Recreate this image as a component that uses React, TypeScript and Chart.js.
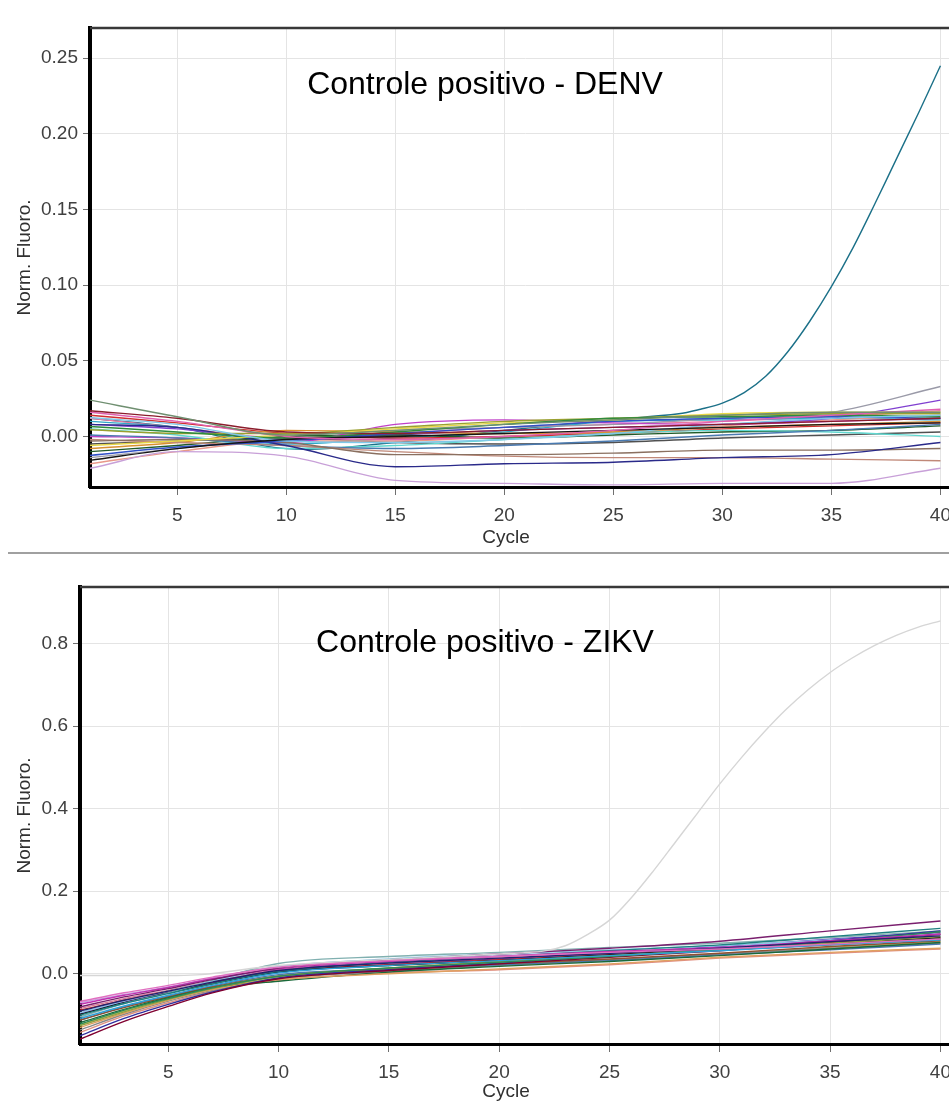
import React, { useEffect, useRef } from "react";
import Chart from "chart.js/auto";

const FONT = "'Liberation Sans', Arial, sans-serif";

// ---------- Shared axis ticks / labels ----------
const X_TICKS = [5, 10, 15, 20, 25, 30, 35, 40];
const DENV_Y_TICKS = [0, 0.05, 0.1, 0.15, 0.2, 0.25];
const ZIKV_Y_TICKS = [0, 0.2, 0.4, 0.6, 0.8];
const X_TITLE = "Cycle";
const Y_TITLE = "Norm. Fluoro.";

// ---------- DENV panel ----------
const DENV_TITLE = "Controle positivo - DENV";
const DENV_CYCLES = [1, 5, 10, 15, 20, 25, 30, 35, 40];
const D01 = [0.024, 0.013, 0.001, 0.004, 0.008, 0.011, 0.014, 0.016, 0.016];
const D02 = [0.017, 0.012, 0.003, 0.002, 0.004, 0.006, 0.008, 0.010, 0.012];
const D03 = [0.016, 0.010, 0.0, -0.002, 0.0, 0.004, 0.010, 0.014, 0.018];
const D04 = [-0.0158, -0.008, -0.002, 0.0, 0.002, 0.004, 0.006, 0.008, 0.009];
const D05 = [0.0125, 0.008, -0.003, -0.004, -0.002, 0.002, 0.008, 0.012, 0.014];
const D06 = [0.0066, 0.003, -0.001, 0.003, 0.008, 0.012, 0.013, 0.014, 0.013];
const D07 = [0.0044, 0.002, 0.002, 0.006, 0.010, 0.012, 0.014, 0.015, 0.015];
const D08 = [-0.006, -0.003, 0.001, 0.005, 0.009, 0.011, 0.015, 0.016, 0.016];
const D09 = [-0.0125, -0.007, -0.003, 0.002, 0.006, 0.010, 0.012, 0.013, 0.012];
const D10 = [-0.021, -0.010, -0.013, -0.029, -0.031, -0.032, -0.031, -0.031, -0.021];
const D11 = [0.008, 0.006, -0.006, -0.020, -0.018, -0.017, -0.014, -0.012, -0.004];
const D12 = [-0.003, -0.002, -0.004, -0.012, -0.012, -0.011, -0.009, -0.009, -0.008];
const D13 = [-0.002, -0.004, -0.006, -0.010, -0.013, -0.014, -0.014, -0.015, -0.016];
const D14 = [0.001, -0.001, -0.006, -0.008, -0.006, -0.003, 0.001, 0.004, 0.008];
const D15 = [0.005, 0.001, -0.008, -0.006, -0.002, 0.002, 0.004, 0.003, 0.0];
const D16 = [-0.008, -0.004, 0.004, 0.003, 0.002, 0.003, 0.006, 0.008, 0.010];
const D17 = [0.0, -0.001, -0.004, 0.008, 0.011, 0.009, 0.008, 0.010, 0.012];
const D18 = [-0.010, -0.006, 0.0, 0.001, -0.001, 0.001, 0.003, 0.004, 0.007];
const D19 = [0.014, 0.009, 0.002, -0.001, 0.0, 0.002, 0.005, 0.007, 0.009];
const D20 = [-0.014, -0.008, 0.0, 0.004, 0.006, 0.008, 0.012, 0.016, 0.033];
const D21 = [0.008, 0.005, -0.002, 0.001, 0.004, 0.006, 0.008, 0.012, 0.024];
const D22 = [-0.018, -0.010, -0.003, -0.003, 0.0, 0.003, 0.007, 0.011, 0.014];
const D23 = [0.010, 0.006, -0.005, -0.001, 0.003, 0.010, 0.011, 0.012, 0.011];
const D24 = [-0.005, -0.003, -0.001, -0.004, -0.005, -0.004, -0.001, 0.001, 0.003];
const D25 = [0.012, 0.006, -0.001, 0.002, 0.006, 0.008, 0.010, 0.013, 0.017];
const DENV_NEG_SERIES = [D01, D02, D03, D04, D05, D06, D07, D08, D09, D10, D11, D12, D13, D14, D15, D16, D17, D18, D19, D20, D21, D22, D23, D24, D25];
const DENV_NEG_COLORS = [
  "#6f8f70", "#8b1c2c", "#e060b0", "#151515", "#7fc8e8", "#2e8b3e", "#9aa030", "#e8d848", "#3050c8",
  "#c8a0d8", "#2a2a8a", "#8a7060", "#c08878", "#4a7ab0", "#60d8d0", "#d89030", "#c040c8", "#205a28",
  "#d03030", "#9a9aa8", "#8040d0", "#e89888", "#30a8c8", "#505050", "#e878a0",
];
const DENV_POS_CYCLES = [1, 5, 10, 15, 20, 25, 28, 29, 30, 31, 32, 33, 34, 35, 36, 37, 38, 39, 40];
const DENV_POS_VALUES = [0.012, 0.006, -0.008, -0.004, 0.004, 0.011, 0.015, 0.018, 0.022, 0.029, 0.040, 0.056, 0.076, 0.099, 0.125, 0.154, 0.184, 0.214, 0.245];
const DENV_POS_COLOR = "#1b7088";

// ---------- ZIKV panel ----------
const ZIKV_TITLE = "Controle positivo - ZIKV";
const ZIKV_CYCLES = [1, 3, 5, 7, 10, 15, 20, 25, 30, 35, 40];
const Z01 = [-0.067, -0.046, -0.028, -0.008, 0.016, 0.032, 0.042, 0.052, 0.060, 0.072, 0.084];
const Z02 = [-0.080, -0.056, -0.036, -0.014, 0.014, 0.034, 0.048, 0.062, 0.079, 0.104, 0.128];
const Z03 = [-0.090, -0.064, -0.042, -0.020, 0.008, 0.026, 0.038, 0.050, 0.062, 0.078, 0.092];
const Z04 = [-0.074, -0.052, -0.033, -0.012, 0.012, 0.030, 0.042, 0.054, 0.064, 0.080, 0.096];
const Z05 = [-0.100, -0.072, -0.048, -0.024, 0.006, 0.028, 0.042, 0.056, 0.070, 0.090, 0.110];
const Z06 = [-0.108, -0.078, -0.052, -0.028, 0.002, 0.020, 0.032, 0.044, 0.056, 0.070, 0.082];
const Z07 = [-0.122, -0.088, -0.060, -0.034, -0.006, 0.014, 0.028, 0.042, 0.058, 0.078, 0.102];
const Z08 = [-0.126, -0.092, -0.062, -0.036, -0.006, 0.014, 0.030, 0.044, 0.058, 0.074, 0.090];
const Z09 = [-0.158, -0.115, -0.079, -0.046, -0.012, 0.008, 0.024, 0.040, 0.056, 0.076, 0.096];
const Z10 = [-0.150, -0.108, -0.074, -0.044, -0.010, 0.010, 0.026, 0.042, 0.060, 0.080, 0.104];
const Z11 = [-0.094, -0.066, -0.042, -0.018, 0.016, 0.036, 0.048, 0.058, 0.068, 0.082, 0.096];
const Z12 = [-0.104, -0.072, -0.046, -0.016, 0.025, 0.042, 0.052, 0.064, 0.074, 0.088, 0.104];
const Z13 = [-0.130, -0.095, -0.064, -0.038, -0.014, 0.000, 0.012, 0.024, 0.040, 0.052, 0.062];
const Z14 = [-0.118, -0.086, -0.058, -0.034, -0.018, 0.004, 0.018, 0.030, 0.044, 0.060, 0.076];
const Z15 = [-0.112, -0.082, -0.056, -0.032, -0.006, 0.012, 0.024, 0.036, 0.050, 0.066, 0.080];
const Z16 = [-0.098, -0.070, -0.046, -0.024, 0.004, 0.020, 0.032, 0.046, 0.060, 0.074, 0.088];
const Z17 = [-0.088, -0.064, -0.042, -0.020, 0.006, 0.022, 0.034, 0.046, 0.058, 0.070, 0.084];
const Z18 = [-0.070, -0.050, -0.032, -0.010, 0.018, 0.034, 0.044, 0.054, 0.062, 0.074, 0.086];
const Z19 = [-0.112, -0.080, -0.054, -0.030, -0.002, 0.012, 0.022, 0.032, 0.046, 0.058, 0.072];
const Z20 = [-0.136, -0.098, -0.066, -0.040, -0.012, 0.006, 0.020, 0.034, 0.048, 0.062, 0.074];
const Z21 = [-0.142, -0.102, -0.070, -0.042, -0.016, 0.002, 0.010, 0.022, 0.038, 0.050, 0.060];
const Z22 = [-0.096, -0.068, -0.044, -0.022, 0.004, 0.022, 0.036, 0.050, 0.066, 0.084, 0.100];
const Z23 = [-0.124, -0.090, -0.060, -0.036, -0.010, 0.008, 0.020, 0.034, 0.048, 0.064, 0.078];
const Z24 = [-0.084, -0.060, -0.040, -0.018, 0.010, 0.026, 0.038, 0.050, 0.060, 0.072, 0.086];
const ZIKV_NEG_SERIES = [Z01, Z02, Z03, Z04, Z05, Z06, Z07, Z08, Z09, Z10, Z11, Z12, Z13, Z14, Z15, Z16, Z17, Z18, Z19, Z20, Z21, Z22, Z23, Z24];
const ZIKV_NEG_COLORS = [
  "#e070c0", "#7a1f6e", "#22226e", "#c030b0", "#1f8080", "#30a0d8", "#2e8b57", "#90a040", "#800030",
  "#3030a0", "#90c8e8", "#80b0b0", "#e0a060", "#1a6a3a", "#905030", "#101010", "#c02828", "#c8a0e0",
  "#4a78b0", "#888888", "#e09080", "#6a40c0", "#c8c060", "#d87898",
];
const ZIKV_POS_CYCLES = [1, 3, 5, 6.5, 10, 15, 20, 22, 23, 24, 25, 26, 27, 28, 29, 30, 31, 32, 33, 34, 35, 36, 37, 38, 39, 40];
const ZIKV_POS_VALUES = [-0.004, -0.004, -0.004, -0.002, 0.02, 0.035, 0.048, 0.055, 0.068, 0.095, 0.13, 0.185, 0.25, 0.32, 0.39, 0.46, 0.525, 0.585, 0.64, 0.688, 0.73, 0.765, 0.795, 0.82, 0.84, 0.855];
const ZIKV_POS_COLOR = "#d6d6d6";

// ---------- helpers ----------
const framePlugin = {
  id: "frame",
  afterDatasetsDraw(chart: any, _args: any, opts: any) {
    const { ctx, chartArea } = chart;
    ctx.save();
    ctx.strokeStyle = "#383838";
    ctx.lineWidth = 2.5;
    ctx.beginPath();
    ctx.moveTo(chartArea.left, chartArea.top);
    ctx.lineTo(chartArea.right, chartArea.top);
    ctx.stroke();
    ctx.fillStyle = "#000";
    ctx.font = `32px ${FONT}`;
    ctx.textAlign = "center";
    ctx.textBaseline = "alphabetic";
    ctx.fillText(opts.text, opts.cx, chartArea.top + opts.dy);
    ctx.restore();
  },
  afterDraw(chart: any, _args: any, opts: any) {
    const { ctx } = chart;
    ctx.save();
    ctx.fillStyle = "#303030";
    ctx.font = `19px ${FONT}`;
    ctx.textAlign = "center";
    ctx.textBaseline = "middle";
    ctx.fillText(X_TITLE, opts.xTitleX, opts.xTitleY);
    ctx.restore();
  },
};

function lineSet(cycles: number[], values: number[], color: string, smooth: boolean) {
  return {
    data: values.map((v, i) => ({ x: cycles[i], y: v })),
    borderColor: color,
    borderWidth: 1.4,
    pointRadius: 0,
    fill: false,
    tension: smooth ? 0.35 : 0.4,
    cubicInterpolationMode: smooth ? ("default" as const) : ("monotone" as const),
  };
}

function makeConfig(p: any) {
  const neg = p.negSeries.map((vals: number[], i: number) => lineSet(p.negCycles, vals, p.negColors[i], false));
  const pos = lineSet(p.posCycles, p.posValues, p.posColor, true);
  const datasets = p.posFirst ? [pos, ...neg] : [...neg, pos];
  return {
    type: "line" as const,
    data: { datasets },
    plugins: [framePlugin],
    options: {
      responsive: false,
      animation: false as const,
      devicePixelRatio: 1,
      events: [],
      layout: { padding: { top: p.padTop, left: 0, right: 0, bottom: 0 } },
      plugins: {
        legend: { display: false },
        tooltip: { enabled: false },
        frame: { text: p.title, cx: 485, dy: p.titleDy, xTitleX: 506, xTitleY: p.xTitleY },
      },
      scales: {
        x: {
          type: "linear" as const,
          min: 1,
          max: p.xMax,
          afterBuildTicks: (s: any) => {
            s.ticks = X_TICKS.map((v) => ({ value: v }));
          },
          afterFit: (s: any) => {
            s.height = p.xHeight;
          },
          ticks: { font: { family: FONT, size: 19 }, color: "#404040", padding: 9, maxRotation: 0 },
          grid: { color: "#e4e4e4", tickColor: "#707070", tickLength: 8, lineWidth: 1 },
          border: { display: true, color: "#000", width: 3 },
          title: { display: false },
        },
        y: {
          type: "linear" as const,
          min: p.yMin,
          max: p.yMax,
          afterBuildTicks: (s: any) => {
            s.ticks = p.yTicks.map((v: number) => ({ value: v }));
          },
          afterFit: (s: any) => {
            s.width = p.yWidth;
          },
          ticks: {
            font: { family: FONT, size: 19 },
            color: "#404040",
            padding: 5,
            callback: (v: any) => Number(v).toFixed(p.yDec),
          },
          grid: { color: "#e4e4e4", tickColor: "#707070", tickLength: 7, lineWidth: 1 },
          border: { display: true, color: "#000", width: 4 },
          title: {
            display: true,
            text: Y_TITLE,
            font: { family: FONT, size: 19 },
            color: "#303030",
            padding: { top: 13, bottom: 0 },
          },
        },
      },
    },
  };
}

export default function App() {
  const ref1 = useRef<HTMLCanvasElement>(null);
  const ref2 = useRef<HTMLCanvasElement>(null);

  useEffect(() => {
    const c1 = new Chart(
      ref1.current as HTMLCanvasElement,
      makeConfig({
        negCycles: DENV_CYCLES,
        negSeries: DENV_NEG_SERIES,
        negColors: DENV_NEG_COLORS,
        posCycles: DENV_POS_CYCLES,
        posValues: DENV_POS_VALUES,
        posColor: DENV_POS_COLOR,
        posFirst: false,
        yTicks: DENV_Y_TICKS,
        yDec: 2,
        yMin: -0.0334,
        yMax: 0.27,
        xMax: 40.85,
        yWidth: 90,
        xHeight: 65,
        padTop: 28,
        title: DENV_TITLE,
        titleDy: 66,
        xTitleY: 538,
      }) as any
    );
    const c2 = new Chart(
      ref2.current as HTMLCanvasElement,
      makeConfig({
        negCycles: ZIKV_CYCLES,
        negSeries: ZIKV_NEG_SERIES,
        negColors: ZIKV_NEG_COLORS,
        posCycles: ZIKV_POS_CYCLES,
        posValues: ZIKV_POS_VALUES,
        posColor: ZIKV_POS_COLOR,
        posFirst: true,
        yTicks: ZIKV_Y_TICKS,
        yDec: 1,
        yMin: -0.17,
        yMax: 0.937,
        xMax: 40.87,
        yWidth: 80,
        xHeight: 60,
        padTop: 31,
        title: ZIKV_TITLE,
        titleDy: 65,
        xTitleY: 536,
      }) as any
    );
    return () => {
      c1.destroy();
      c2.destroy();
    };
  }, []);

  return (
    <div
      style={{
        position: "absolute",
        left: 0,
        top: 0,
        width: 949,
        height: 1104,
        overflow: "hidden",
        background: "#fff",
      }}
    >
      <canvas
        ref={ref1}
        width={960}
        height={552}
        style={{ position: "absolute", left: 0, top: 0, width: 960, height: 552, display: "block" }}
      />
      <div style={{ position: "absolute", left: 8, top: 552, width: 941, height: 2, background: "#a0a0a0" }} />
      <canvas
        ref={ref2}
        width={960}
        height={548}
        style={{ position: "absolute", left: 0, top: 556, width: 960, height: 548, display: "block" }}
      />
    </div>
  );
}
